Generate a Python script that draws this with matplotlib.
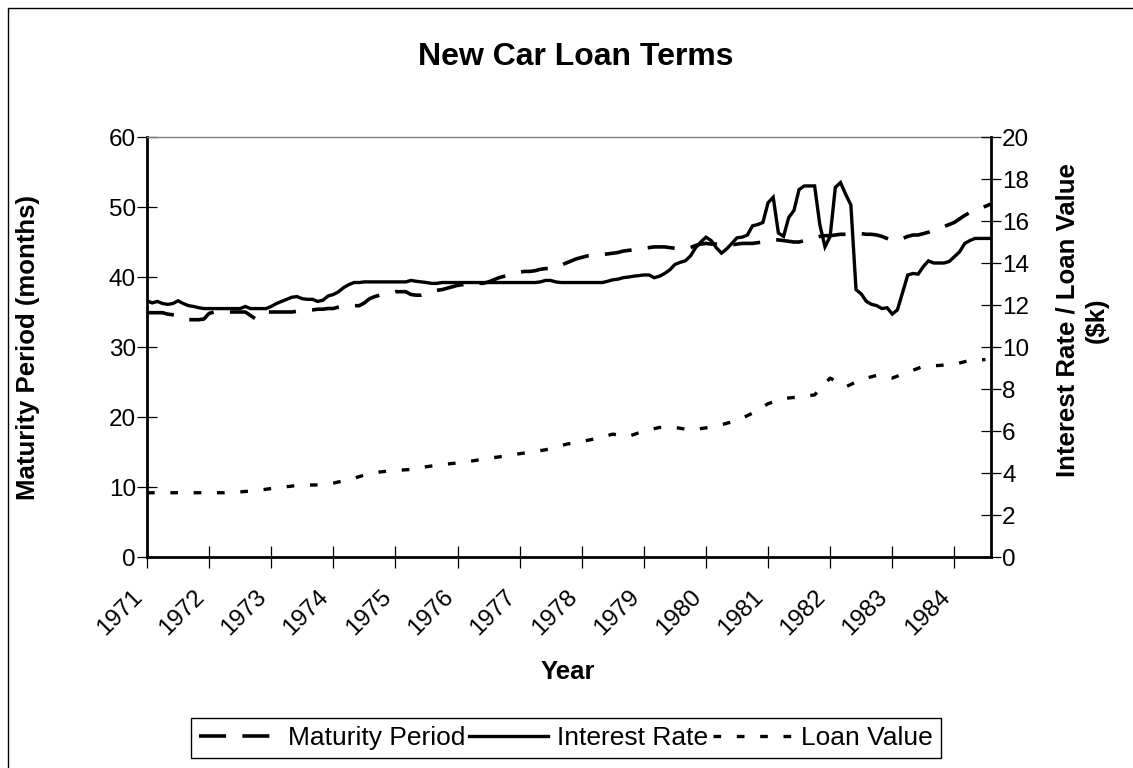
import numpy as np
import matplotlib
matplotlib.use("Agg")
import matplotlib.pyplot as plt
from matplotlib.lines import Line2D
from matplotlib.patches import Rectangle
from matplotlib.transforms import ScaledTranslation

plt.rcParams["font.family"] = ["Liberation Sans", "DejaVu Sans"]

# ---- data (monthly from Jan 1971, loan value quarterly) ----
years = list(range(1971, 1985))

maturity_months = [
    34.9, 34.9, 34.9, 34.9, 34.7, 34.6, 34.5, 34.2, 33.9, 33.9, 33.9, 34.0,
    34.8, 35.0, 35.0, 35.0, 35.0, 35.0, 35.0, 35.0, 34.5, 34.0, 34.6, 35.0,
    35.0, 35.0, 35.0, 35.0, 35.0, 35.1, 35.2, 35.3, 35.3, 35.4, 35.4, 35.5,
    35.5, 35.7, 35.8, 35.9, 35.9, 35.9, 36.3, 36.9, 37.2, 37.4, 37.6, 37.7,
    37.9, 37.9, 37.9, 37.5, 37.4, 37.4, 37.6, 37.9, 38.1, 38.2, 38.4, 38.6,
    38.8, 38.9, 39.1, 39.1, 39.1, 39.1, 39.3, 39.6, 39.9, 40.1, 40.3, 40.5,
    40.7, 40.8, 40.8, 40.9, 41.1, 41.2, 41.2, 41.3, 41.7, 42.0, 42.3, 42.6,
    42.8, 43.0, 43.1, 43.1, 43.2, 43.3, 43.4, 43.5, 43.7, 43.8, 43.9, 44.0,
    44.1, 44.2, 44.3, 44.3, 44.3, 44.2, 44.1, 44.1, 44.0, 44.2, 44.5, 44.7,
    44.8, 44.7, 44.7, 44.6, 44.6, 44.6, 44.7, 44.8, 44.8, 44.8, 44.9, 45.0,
    45.1, 45.3, 45.3, 45.2, 45.1, 45.0, 45.0, 45.2, 45.4, 45.6, 45.8, 45.9,
    45.9, 46.0, 46.1, 46.1, 46.2, 46.2, 46.2, 46.1, 46.1, 46.0, 45.8, 45.5,
    45.2, 45.3, 45.5, 45.8, 46.0, 46.0, 46.2, 46.4, 46.7, 46.9, 47.2, 47.5,
    47.8, 48.3, 48.8, 49.2, 49.5, 49.8, 50.1, 50.4,
]

interest_rate = [
    12.20, 12.10, 12.17, 12.07, 12.03, 12.07, 12.20, 12.07, 11.97, 11.93, 11.87, 11.83,
    11.83, 11.83, 11.83, 11.83, 11.83, 11.83, 11.83, 11.93, 11.83, 11.83, 11.83, 11.83,
    11.93, 12.07, 12.17, 12.27, 12.37, 12.40, 12.30, 12.27, 12.27, 12.17, 12.23, 12.43,
    12.50, 12.63, 12.83, 12.97, 13.07, 13.07, 13.10, 13.10, 13.10, 13.10, 13.10, 13.10,
    13.10, 13.10, 13.10, 13.17, 13.13, 13.10, 13.07, 13.03, 13.03, 13.07, 13.07, 13.07,
    13.07, 13.07, 13.07, 13.07, 13.07, 13.07, 13.07, 13.07, 13.07, 13.07, 13.07, 13.07,
    13.07, 13.07, 13.07, 13.07, 13.10, 13.17, 13.17, 13.10, 13.07, 13.07, 13.07, 13.07,
    13.07, 13.07, 13.07, 13.07, 13.07, 13.13, 13.20, 13.23, 13.30, 13.33, 13.37, 13.40,
    13.43, 13.43, 13.30, 13.37, 13.50, 13.67, 13.93, 14.03, 14.10, 14.33, 14.73, 15.00,
    15.23, 15.07, 14.73, 14.47, 14.67, 14.93, 15.20, 15.23, 15.33, 15.77, 15.83, 15.93,
    16.87, 17.13, 15.43, 15.27, 16.17, 16.50, 17.50, 17.67, 17.67, 17.67, 15.83, 14.77,
    15.27, 17.60, 17.83, 17.27, 16.77, 12.73, 12.53, 12.17, 12.03, 11.97, 11.83, 11.87,
    11.57, 11.77, 12.60, 13.43, 13.50, 13.47, 13.83, 14.10, 14.00, 14.00, 14.00, 14.07,
    14.30, 14.53, 14.93, 15.07, 15.17, 15.17, 15.17, 15.17,
]

loan_value_k = [
    3.06, 3.06, 3.06, 3.06, 3.06, 3.06, 3.10, 3.16, 3.26, 3.35, 3.43,
    3.43, 3.52, 3.68, 3.90, 4.05, 4.12, 4.17, 4.30, 4.40, 4.48, 4.58,
    4.70, 4.80, 4.92, 5.02, 5.15, 5.37, 5.50, 5.65, 5.85, 5.74, 6.00,
    6.17, 6.17, 6.05, 6.15, 6.30, 6.50, 6.85, 7.30, 7.55, 7.62, 7.72,
    8.52, 8.10, 8.45, 8.65, 8.52, 8.80, 9.08, 9.12, 9.18, 9.36, 9.40,
]

t_month = 1971 + np.arange(len(maturity_months)) / 12
t_quarter = 1971 + np.arange(len(loan_value_k)) / 4

# ---- figure ----
W, H = 1133, 768
fig = plt.figure(figsize=(W / 100, H / 100), dpi=100)
ax = fig.add_axes([147 / W, 1 - 557 / H, (991 - 147) / W, (557 - 137) / H])
ax2 = ax.twinx()

dash_style = dict(color="black", lw=2.6, dashes=(7.5, 4.5), dash_capstyle="butt")
dot_style = dict(color="black", lw=2.4, dashes=(2.3, 4.7), dash_capstyle="butt")
solid_style = dict(color="black", lw=2.4, solid_joinstyle="miter")

ax.plot(t_month, maturity_months, **dash_style)
ax2.plot(t_month, interest_rate, **solid_style)
ax2.plot(t_quarter, loan_value_k, **dot_style)

ax.set_xlim(1971, 1984.59)
ax.set_ylim(0, 60)
ax2.set_ylim(0, 20)
ax.set_yticks(range(0, 61, 10))
ax2.set_yticks(range(0, 21, 2))
ax.set_xticks(years)
ax.set_xticklabels([str(y) for y in years], rotation=45, ha="right", va="top")
for lab in ax.get_xticklabels():
    lab.set_transform(lab.get_transform() + ScaledTranslation(-7 / 72, 0, fig.dpi_scale_trans))

ax.tick_params(axis="y", direction="inout", length=15, width=0.9, labelsize=17.5, pad=0.5)
ax.tick_params(axis="x", direction="inout", length=16, width=0.9, labelsize=17.5, pad=13)
ax2.tick_params(axis="y", direction="inout", length=15, width=0.9, labelsize=17.5, pad=0.5)

for s in ["left", "bottom"]:
    ax.spines[s].set_linewidth(2)
ax.spines["right"].set_visible(False)
ax.spines["top"].set_color("#808080")
ax.spines["top"].set_linewidth(1)
for s in ["left", "bottom", "top"]:
    ax2.spines[s].set_visible(False)
ax2.spines["right"].set_linewidth(2)

# ---- text ----
fig.text(576 / W, 1 - 57 / H, "New Car Loan Terms", fontsize=23, fontweight="bold",
         ha="center", va="center")
fig.text(28 / W, 1 - 347 / H, "Maturity Period (months)", fontsize=18.5, fontweight="bold",
         rotation=90, ha="center", va="center")
fig.text(1082 / W, 1 - 320 / H, "Interest Rate / Loan Value\n($k)", fontsize=18.5,
         fontweight="bold", rotation=90, ha="center", va="center",
         multialignment="center", linespacing=1.3)
fig.text(568 / W, 1 - 672 / H, "Year", fontsize=18.5, fontweight="bold",
         ha="center", va="center")

handles = [Line2D([], [], **dash_style), Line2D([], [], **solid_style),
           Line2D([], [], **dot_style)]
leg = fig.legend(handles, ["Maturity Period", "Interest Rate", "Loan Value"],
                 loc="center", bbox_to_anchor=(566 / W, 1 - 738 / H), ncol=3,
                 fontsize=19, frameon=True, fancybox=False, framealpha=1,
                 edgecolor="black", handlelength=3.0, handletextpad=0.35,
                 columnspacing=0.15, borderpad=0.3)
leg.get_frame().set_linewidth(1)

fig.patches.append(Rectangle((8 / W, -0.01), 1.0, 1 - 8 / H + 0.01, transform=fig.transFigure,
                             fill=False, edgecolor="black", lw=1))

fig.savefig("out.png", dpi=100)
